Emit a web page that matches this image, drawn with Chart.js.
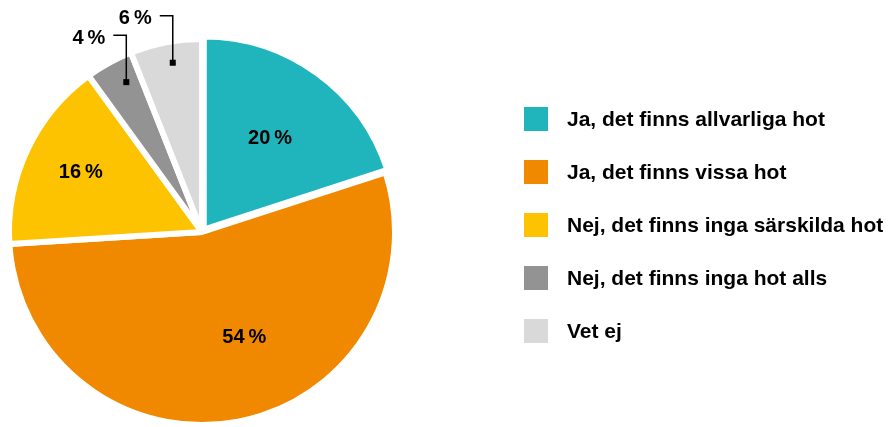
<!DOCTYPE html>
<html>
<head>
<meta charset="utf-8">
<script src="https://cdn.jsdelivr.net/npm/chart.js@4/dist/chart.umd.min.js"></script>
<style>
  html, body { margin: 0; padding: 0; background: #fff; }
</style>
</head>
<body>
<canvas id="threatChart" width="891" height="427"></canvas>
<script>
var categories = ["Ja, det finns allvarliga hot", "Ja, det finns vissa hot", "Nej, det finns inga särskilda hot", "Nej, det finns inga hot alls", "Vet ej"];
var shares = [20, 54, 16, 4, 6];
var sliceColors = ["#20B5BD", "#F08800", "#FDC300", "#939393", "#D9D9D9"];

// where each percent label sits: fraction of radius, angle shift (deg), outside with leader line
var labelPlace = [
    { r: 0.6, da: 0 },
    { r: 0.59, da: -11 },
    { r: 0.7, da: 1 },
    { r: 0.87, da: 2, outside: true },
    { r: 0.89, da: 1, outside: true }
];

var FONT = "'Liberation Sans', Arial, sans-serif";

var labelPlugin = {
    id: 'pieLabels',
    afterDatasetsDraw: function (chart) {
        var ctx = chart.ctx;
        var meta = chart.getDatasetMeta(0);
        ctx.save();
        meta.data.forEach(function (arc, i) {
            var p = labelPlace[i];
            var mid = (arc.startAngle + arc.endAngle) / 2 + p.da * Math.PI / 180;
            var rr = arc.outerRadius * p.r;
            var x = arc.x + Math.cos(mid) * rr;
            var y = arc.y + Math.sin(mid) * rr;
            var txt = shares[i] + "\u2009%";
            ctx.font = "bold 20px " + FONT;
            ctx.fillStyle = "#000";
            ctx.textBaseline = "middle";
            if (!p.outside) {
                ctx.textAlign = "center";
                ctx.fillText(txt, x, y);
            } else {
                var topY = y - 47;
                var leftX = x - 13;
                ctx.strokeStyle = "#000";
                ctx.lineWidth = 1.5;
                ctx.beginPath();
                ctx.moveTo(x, y);
                ctx.lineTo(x, topY);
                ctx.lineTo(leftX, topY);
                ctx.stroke();
                ctx.fillRect(x - 3, y - 3, 6, 6);
                ctx.textAlign = "right";
                ctx.fillText(txt, leftX - 8, topY + 3);
            }
        });
        ctx.restore();
    },
    afterDraw: function (chart) {
        var ctx = chart.ctx;
        ctx.save();
        ctx.font = "bold 21px " + FONT;
        ctx.textAlign = "left";
        ctx.textBaseline = "middle";
        categories.forEach(function (name, i) {
            var cy = 119 + i * 53;
            ctx.fillStyle = sliceColors[i];
            ctx.fillRect(524, cy - 12, 24, 24);
            ctx.fillStyle = "#000";
            ctx.fillText(name, 567, cy + 1);
        });
        ctx.restore();
    }
};

var ctx = document.getElementById('threatChart').getContext('2d');
var myChart = new Chart(ctx, {
    type: 'pie',
    data: {
        labels: categories,
        datasets: [{
            data: shares,
            backgroundColor: sliceColors,
            borderColor: "#ffffff",
            borderWidth: 6,
            offset: [12, 0, 0, 0, 0],
            radius: 193
        }]
    },
    options: {
        responsive: false,
        animation: false,
        devicePixelRatio: 1,
        layout: {
            padding: { left: 0, right: 487, top: 37, bottom: 0 }
        },
        plugins: {
            legend: { display: false },
            tooltip: { enabled: false }
        }
    },
    plugins: [labelPlugin]
});
</script>
</body>
</html>
